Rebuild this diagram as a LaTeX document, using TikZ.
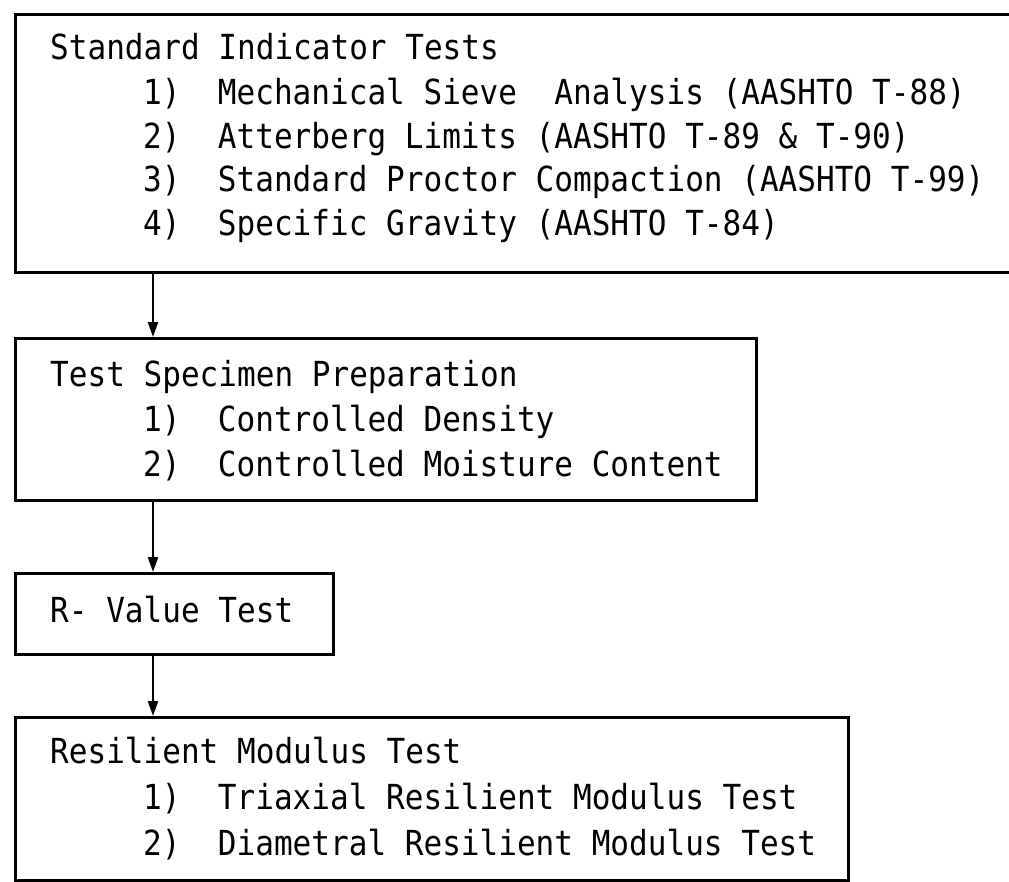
\documentclass[tikz,border=0pt]{standalone}
\usepackage{fontspec}
\newfontfamily\plotfont[FakeStretch=0.9]{DejaVu Sans Mono}
\usetikzlibrary{arrows.meta}
\tikzset{
  box/.style = {rectangle, draw, line width=2.8pt, anchor=north west, inner sep=0pt},
  txt/.style = {anchor=base west, inner sep=0pt, font=\plotfont\fontsize{34.5}{40}\selectfont},
  edge/.style = {line width=2.4pt, -{Triangle[length=15pt, width=10pt]}},
}
\begin{document}
\begin{tikzpicture}[x=1pt, y=-1pt]
  \useasboundingbox (0,0) rectangle (1009,881);

  % boxes
  \node[box, minimum width=1001pt, minimum height=258pt] (b1) at (14,13) {};
  \node[box, minimum width=741pt, minimum height=162pt] (b2) at (14,337) {};
  \node[box, minimum width=318pt, minimum height=81pt] (b3) at (14,572) {};
  \node[box, minimum width=833pt, minimum height=163pt] (b4) at (14,716) {};

  % texts
  \node[txt] (h1) at (50,59) {Standard Indicator Tests};
  \node[txt] (i11) at (143,104) {1)\ \ Mechanical Sieve\ \ Analysis (AASHTO T-88)};
  \node[txt] (i12) at (143,148) {2)\ \ Atterberg Limits (AASHTO T-89 \& T-90)};
  \node[txt] (i13) at (143,191) {3)\ \ Standard Proctor Compaction (AASHTO T-99)};
  \node[txt] (i14) at (143,235) {4)\ \ Specific Gravity (AASHTO T-84)};

  \node[txt] (h2) at (50,386) {Test Specimen Preparation};
  \node[txt] (i21) at (143,431) {1)\ \ Controlled Density};
  \node[txt] (i22) at (143,476) {2)\ \ Controlled Moisture Content};

  \node[txt] (h3) at (50,622) {R- Value Test};

  \node[txt] (h4) at (50,763) {Resilient Modulus Test};
  \node[txt] (i41) at (143,809) {1)\ \ Triaxial Resilient Modulus Test};
  \node[txt] (i42) at (143,855) {2)\ \ Diametral Resilient Modulus Test};

  % edges
  \coordinate (ax) at (153,0);
  \draw[edge] (b1.south -| ax) -- (b2.north -| ax);
  \draw[edge] (b2.south -| ax) -- (b3.north -| ax);
  \draw[edge] (b3.south -| ax) -- (b4.north -| ax);
\end{tikzpicture}
\end{document}
